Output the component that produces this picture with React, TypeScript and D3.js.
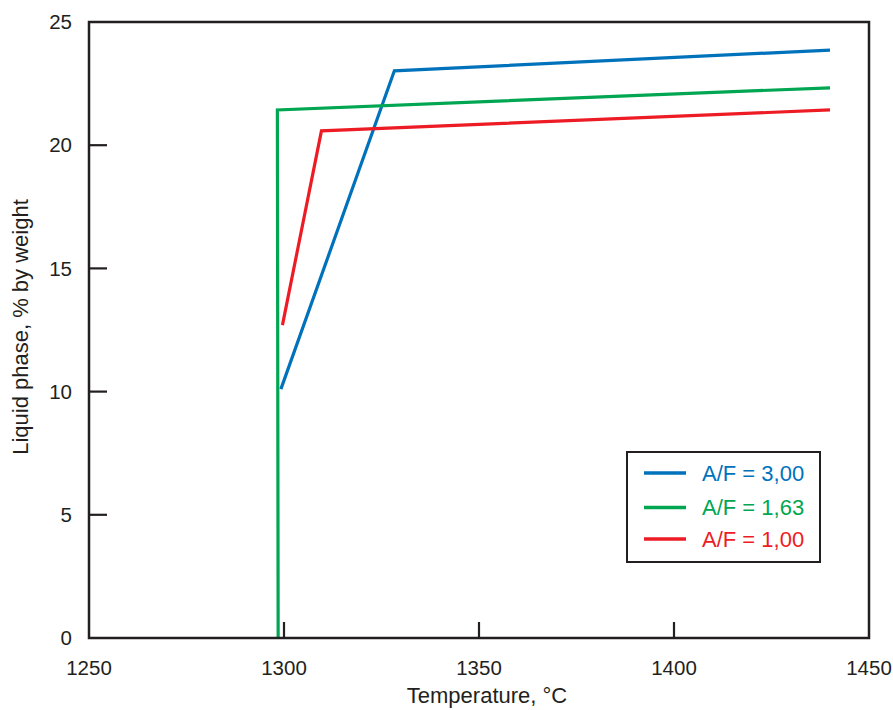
import React from "react";
import * as d3 from "d3";

const xTicks = [1250, 1300, 1350, 1400, 1450];
const yTicks = [0, 5, 10, 15, 20, 25];

const seriesNames = ["A/F = 3,00", "A/F = 1,63", "A/F = 1,00"];
const seriesColors = ["#0072bc", "#00a651", "#ed1c24"];

const blueX = [1299.2, 1328.3, 1440];
const blueY = [10.1, 23.02, 23.86];
const greenX = [1298.5, 1298.3, 1440];
const greenY = [0, 21.43, 22.33];
const redX = [1299.6, 1309.6, 1440];
const redY = [12.7, 20.58, 21.43];

const W = 893;
const H = 710;
const left = 89, right = 869, top = 22, bottom = 638;
const FONT = "'Liberation Sans', Arial, Helvetica, sans-serif";
const INK = "#231f20";

export default function App() {
  const x = d3.scaleLinear().domain([1250, 1450]).range([left, right]);
  const y = d3.scaleLinear().domain([0, 25]).range([bottom, top]);
  const line = d3
    .line<[number, number]>()
    .x((d) => x(d[0]))
    .y((d) => y(d[1]));

  const series = [
    blueX.map((v, i) => [v, blueY[i]] as [number, number]),
    greenX.map((v, i) => [v, greenY[i]] as [number, number]),
    redX.map((v, i) => [v, redY[i]] as [number, number]),
  ];

  const legendX = 627, legendY = 452, legendW = 193, legendH = 110;
  const legendRows = [473, 507.5, 539];

  return (
    <svg
      width={W}
      height={H}
      style={{ position: "absolute", left: 0, top: 0, background: "#fff" }}
      fontFamily={FONT}
    >
      {series.map((s, i) => (
        <path
          key={i}
          d={line(s) || ""}
          fill="none"
          stroke={seriesColors[i]}
          strokeWidth={3.2}
          strokeLinejoin="miter"
        />
      ))}

      {xTicks.slice(1, -1).map((t) => (
        <line key={"xt" + t} x1={x(t)} x2={x(t)} y1={bottom} y2={bottom - 16} stroke={INK} strokeWidth={2.2} />
      ))}
      {yTicks.slice(1, -1).map((t) => (
        <line key={"yt" + t} x1={left} x2={left + 18} y1={y(t)} y2={y(t)} stroke={INK} strokeWidth={2.2} />
      ))}

      <rect x={left} y={top} width={right - left} height={bottom - top} fill="none" stroke={INK} strokeWidth={2.5} />

      {xTicks.map((t) => (
        <text key={"xl" + t} x={x(t)} y={675} textAnchor="middle" fontSize={20.5} fill={INK}>
          {t}
        </text>
      ))}
      {yTicks.map((t) => (
        <text key={"yl" + t} x={72} y={y(t)} dy="0.35em" textAnchor="end" fontSize={20.5} fill={INK}>
          {t}
        </text>
      ))}

      <text x={487} y={703} textAnchor="middle" fontSize={22} fill={INK}>
        Temperature, °C
      </text>
      <text transform={`translate(28, 327) rotate(-90)`} textAnchor="middle" fontSize={22} fill={INK}>
        Liquid phase, % by weight
      </text>

      <rect x={legendX} y={legendY} width={legendW} height={legendH} fill="#fff" stroke={INK} strokeWidth={2} />
      {seriesNames.map((name, i) => (
        <g key={name}>
          <line x1={644} x2={686} y1={legendRows[i]} y2={legendRows[i]} stroke={seriesColors[i]} strokeWidth={3.5} />
          <text x={702} y={legendRows[i]} dy="0.36em" fontSize={22} fill={seriesColors[i]}>
            {name}
          </text>
        </g>
      ))}
    </svg>
  );
}
